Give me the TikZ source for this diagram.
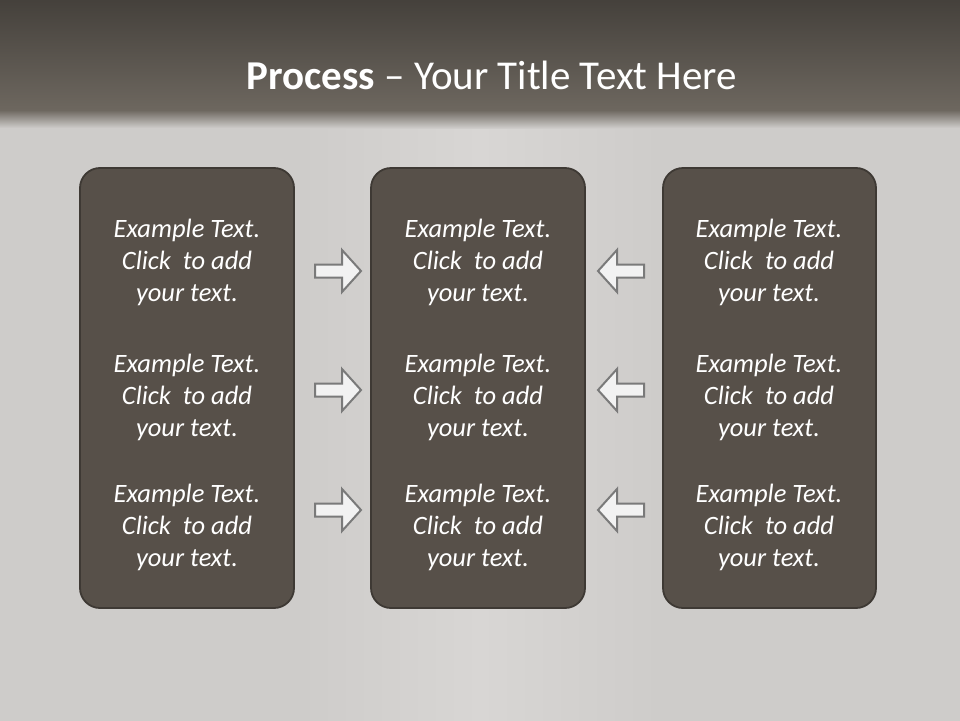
\documentclass[tikz,border=0pt]{standalone}
\usepackage{fontspec}
\setmainfont{Carlito}
\definecolor{boxfill}{HTML}{575049}
\definecolor{boxline}{HTML}{3E3934}
\definecolor{bgtop}{HTML}{433F3A}
\definecolor{bgmid}{HTML}{6D675F}
\definecolor{bglight}{HTML}{CECCCA}
\definecolor{bgglow}{HTML}{D8D6D4}
\definecolor{arrfill}{HTML}{F2F2F2}
\definecolor{arrline}{HTML}{7A7A7A}
\tikzset{
  panel/.style={draw=boxline, line width=1.8pt, fill=boxfill, rounded corners=20pt},
  itext/.style={text=white, font=\fontsize{26.5}{32}\selectfont\itshape, align=center, inner sep=0pt},
  arr/.style={draw=arrline, line width=2pt, fill=arrfill, line join=miter}
}
\newcommand{\txt}{Example Text.\\Click\ \ to add\\your text.}
\begin{document}
\begin{tikzpicture}[x=1pt,y=-1pt]
\useasboundingbox (0,0) rectangle (960,720);
% background
\fill[bglight] (-5,-5) rectangle (965,725);
\shade[left color=bglight, right color=bgglow] (300,128) rectangle (480,725);
\shade[left color=bgglow, right color=bglight] (480,128) rectangle (660,725);
\shade[top color=bgtop, bottom color=bgmid] (-5,-5) rectangle (965,110);
\shade[top color=bgmid, bottom color=bglight] (-5,110) rectangle (965,128);
% title
\node[text=white, font=\fontsize{41}{44}\selectfont, inner sep=0pt] (title) at (492,75) {\textbf{Process} -- Your Title Text Here};
% panels
\node[panel, minimum width=214pt, minimum height=440pt] (p1) at (187,388) {};
\node[panel, minimum width=214pt, minimum height=440pt] (p2) at (478,388) {};
\node[panel, minimum width=213pt, minimum height=440pt] (p3) at (769.5,388) {};
% texts
\foreach \cx/\n in {187/a,478/b,769/c}{
  \foreach \cy/\m in {262/1,397/2,527/3}{
    \node[itext] (t\n\m) at (\cx,\cy) {\txt};
  }
}
% arrows
\foreach \cy/\m in {271/1,390/2,510/3}{
  \draw[arr] (315,\cy-6.5) -- (342,\cy-6.5) -- (342,\cy-21) -- (361,\cy) -- (342,\cy+21) -- (342,\cy+6.5) -- (315,\cy+6.5) -- cycle;
  \draw[arr] (644,\cy-6.5) -- (617,\cy-6.5) -- (617,\cy-21) -- (598,\cy) -- (617,\cy+21) -- (617,\cy+6.5) -- (644,\cy+6.5) -- cycle;
}
\end{tikzpicture}
\end{document}
